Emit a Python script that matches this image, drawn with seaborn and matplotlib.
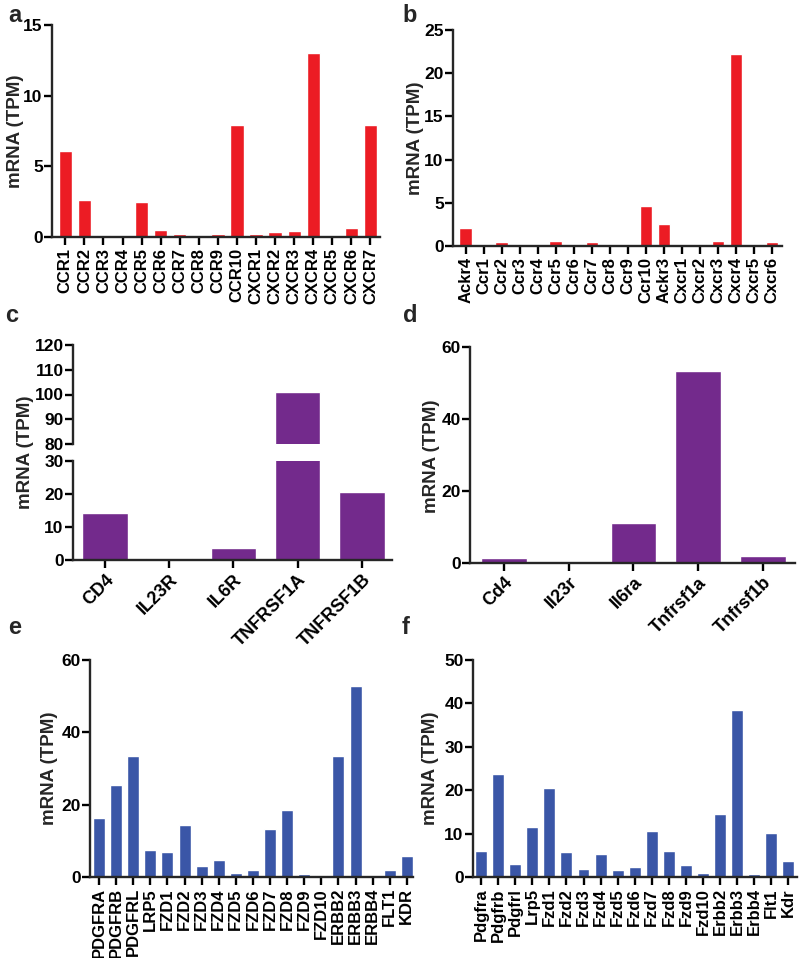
import matplotlib
matplotlib.use("Agg")
import matplotlib.pyplot as plt
import seaborn as sns

# ---- data (TPM) ----
genes_a = ["CCR1", "CCR2", "CCR3", "CCR4", "CCR5", "CCR6", "CCR7", "CCR8", "CCR9",
           "CCR10", "CXCR1", "CXCR2", "CXCR3", "CXCR4", "CXCR5", "CXCR6", "CXCR7"]
tpm_a = [6.05, 2.6, 0.15, 0.1, 2.45, 0.52, 0.22, 0.0, 0.22,
         7.9, 0.24, 0.35, 0.4, 13.0, 0.0, 0.64, 7.95]

genes_b = ["Ackr4", "Ccr1", "Ccr2", "Ccr3", "Ccr4", "Ccr5", "Ccr6", "Ccr7", "Ccr8",
           "Ccr9", "Ccr10", "Ackr3", "Cxcr1", "Cxcr2", "Cxcr3", "Cxcr4", "Cxcr5", "Cxcr6"]
tpm_b = [2.1, 0.0, 0.5, 0.0, 0.0, 0.6, 0.0, 0.5, 0.0,
         0.0, 4.67, 2.55, 0.0, 0.2, 0.6, 22.2, 0.0, 0.42]

genes_c = ["CD4", "IL23R", "IL6R", "TNFRSF1A", "TNFRSF1B"]
tpm_c = [14.3, 0.7, 3.7, 101.2, 20.5]

genes_d = ["Cd4", "Il23r", "Il6ra", "Tnfrsf1a", "Tnfrsf1b"]
tpm_d = [1.4, 0.0, 11.1, 53.2, 2.0]

genes_e = ["PDGFRA", "PDGFRB", "PDGFRL", "LRP5", "FZD1", "FZD2", "FZD3", "FZD4", "FZD5",
           "FZD6", "FZD7", "FZD8", "FZD9", "FZD10", "ERBB2", "ERBB3", "ERBB4", "FLT1", "KDR"]
tpm_e = [16.4, 25.5, 33.5, 7.6, 6.8, 14.4, 3.1, 4.7, 1.0,
         2.0, 13.2, 18.6, 0.7, 0.55, 33.4, 52.9, 0.35, 1.85, 5.7]

genes_f = ["Pdgfra", "Pdgfrb", "Pdgfrl", "Lrp5", "Fzd1", "Fzd2", "Fzd3", "Fzd4", "Fzd5",
           "Fzd6", "Fzd7", "Fzd8", "Fzd9", "Fzd10", "Erbb2", "Erbb3", "Erbb4", "Flt1", "Kdr"]
tpm_f = [6.0, 23.8, 2.9, 11.5, 20.5, 5.7, 1.8, 5.2, 1.5,
         2.3, 10.7, 6.0, 2.7, 1.0, 14.5, 38.5, 0.7, 10.2, 3.7]

RED = "#ec1c24"
PURPLE = "#732a8c"
BLUE = "#3a56a7"

sns.set_style("ticks")
plt.rcParams['font.family'] = ['Liberation Sans', 'DejaVu Sans']
plt.rcParams['font.weight'] = 'bold'
plt.rcParams['axes.linewidth'] = 1.7

W, H = 800, 958
fig = plt.figure(figsize=(W / 100, H / 100), dpi=100)


def px_box(left, top, right, bottom):
    return [left / W, 1 - bottom / H, (right - left) / W, (bottom - top) / H]


def bar_panel(box, genes, tpm, colour, ylim, yticks, xlim, rot=90, width=0.7, xsize=12):
    ax = fig.add_axes(px_box(*box))
    sns.barplot(x=genes, y=tpm, color=colour, saturation=1, width=width,
                errorbar=None, ax=ax)
    ax.set_ylim(*ylim)
    ax.set_yticks(yticks)
    ax.set_xlim(*xlim)
    ax.set_xlabel('')
    ax.set_ylabel('')
    sns.despine(ax=ax)
    ax.tick_params(width=1.7, length=5.5, pad=1.2, colors='black')
    ax.tick_params(axis='y', labelsize=12.5)
    ax.tick_params(axis='x', labelsize=xsize, pad=2.5)
    if rot == 90:
        ax.tick_params(axis='x', labelrotation=90)
    else:
        plt.setp(ax.get_xticklabels(), rotation=rot, ha='right', rotation_mode='anchor')
    return ax


# a
bar_panel((52, 25, 380, 237), genes_a, tpm_a, RED, (0, 15), [0, 5, 10, 15], (-0.7, 16.5))
# b
bar_panel((453, 30, 782, 246), genes_b, tpm_b, RED, (0, 25), [0, 5, 10, 15, 20, 25], (-0.7, 17.55))

# c - broken y axis
ax_top = bar_panel((73, 345, 392, 444), genes_c, tpm_c, PURPLE, (80, 120),
                   [80, 90, 100, 110, 120], (-0.5, 4.47), rot=45, width=0.71, xsize=13)
ax_top.spines['bottom'].set_visible(False)
ax_top.tick_params(axis='x', bottom=False, labelbottom=False)
bar_panel((73, 461, 392, 560), genes_c, tpm_c, PURPLE, (0, 30), [0, 10, 20, 30],
          (-0.5, 4.47), rot=45, width=0.71, xsize=13)

# d
bar_panel((470, 347, 795, 563), genes_d, tpm_d, PURPLE, (0, 60), [0, 20, 40, 60],
          (-0.53, 4.5), rot=45, width=0.71, xsize=13)

# e
bar_panel((90, 660, 413, 877), genes_e, tpm_e, BLUE, (0, 60), [0, 20, 40, 60],
          (-0.53, 18.36), xsize=12)
# f
bar_panel((473, 660, 797, 877), genes_f, tpm_f, BLUE, (0, 50), [0, 10, 20, 30, 40, 50],
          (-0.47, 18.5), xsize=12)

# y labels
for x, y in [(16, 131), (416, 138), (25, 452), (432, 456), (50, 768), (431, 768)]:
    fig.text(x / W, 1 - y / H, 'mRNA (TPM)', rotation=90, ha='center', va='center',
             fontsize=13.5, fontweight='bold')

# panel letters
for letter, x, y in [('a', 15, 16), ('b', 410, 16), ('c', 12, 315), ('d', 410, 315),
                     ('e', 15, 628), ('f', 406, 628)]:
    fig.text(x / W, 1 - y / H, letter, ha='center', va='center', fontsize=17,
             fontweight='bold')

plt.savefig('out.png', dpi=100)
